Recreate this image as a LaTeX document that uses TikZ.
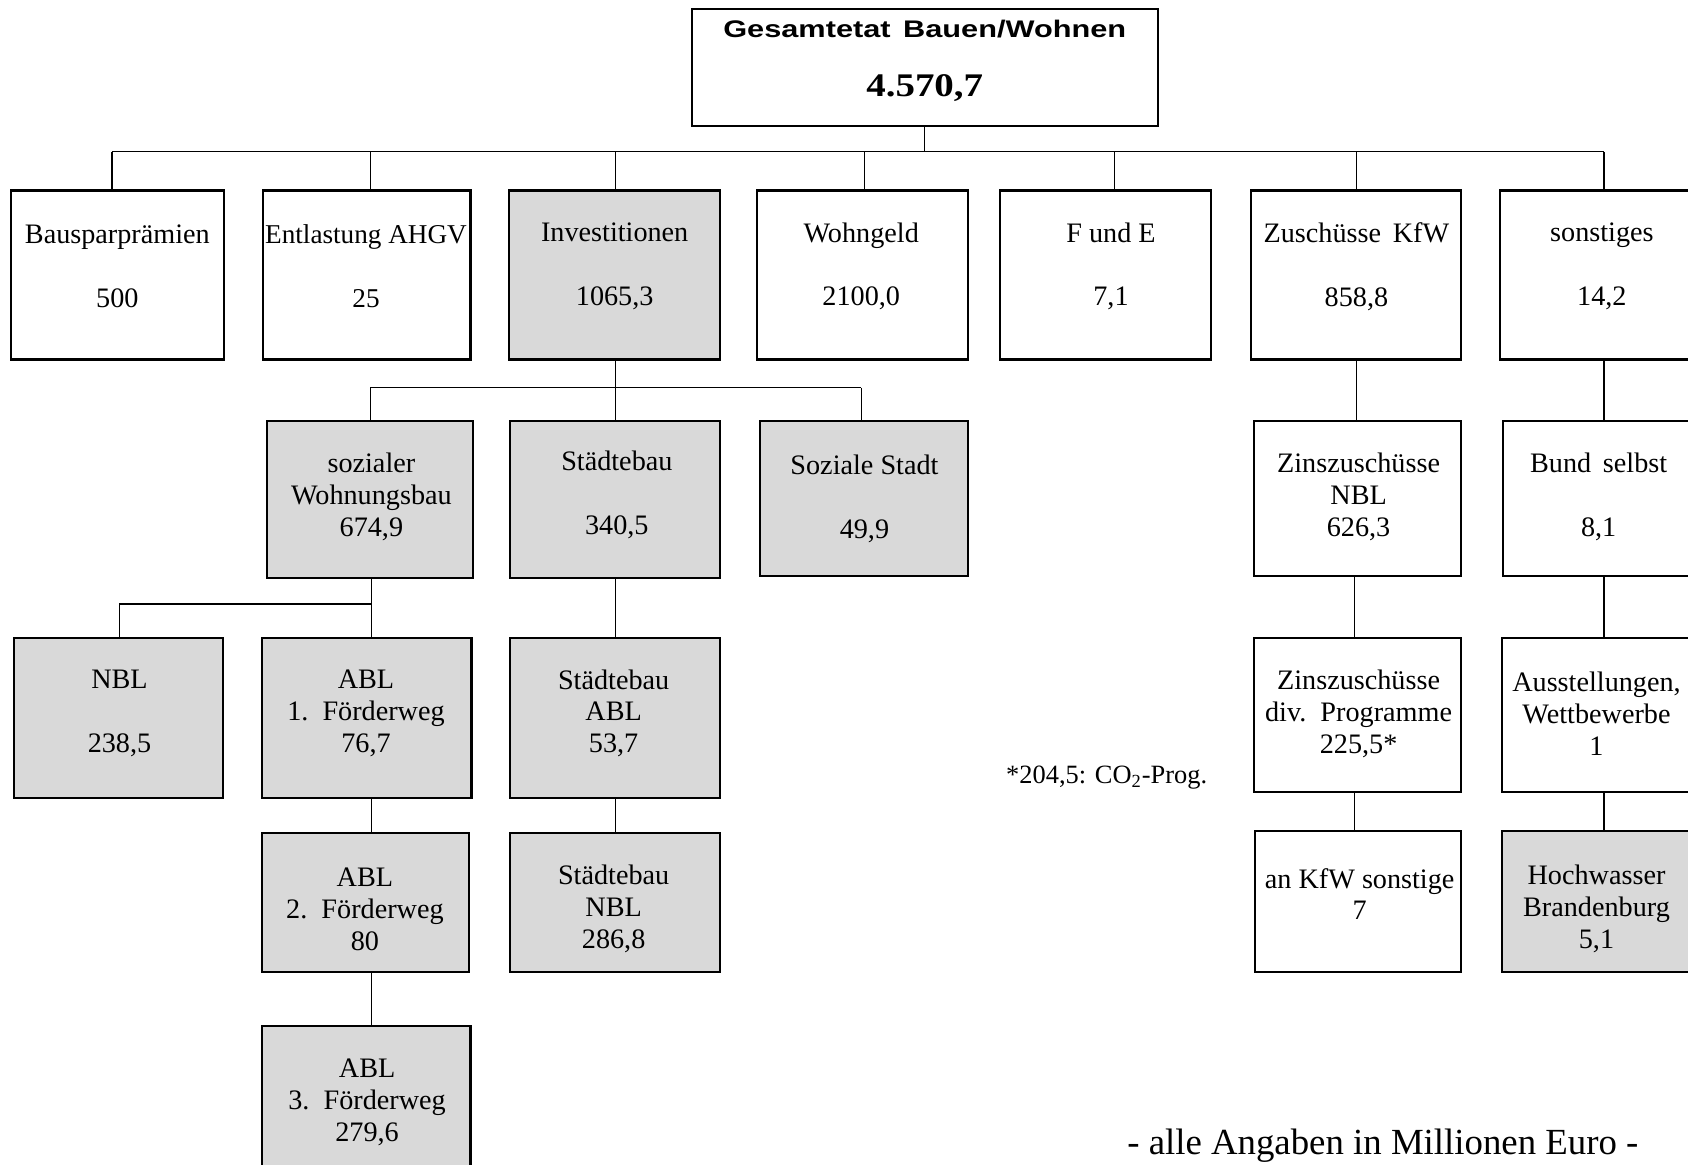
\documentclass[tikz,border=0pt]{standalone}
\usepackage{fontspec}
\setmainfont{Liberation Serif}
\newfontfamily\titlesans[FakeStretch=1.28]{Liberation Sans}
\newfontfamily\titleserif[FakeStretch=1.18]{Liberation Serif}
\usetikzlibrary{fit}
\definecolor{boxgray}{HTML}{D9D9D9}
\begin{document}
\begin{tikzpicture}[x=0.53827pt, y=-0.53827pt,
  box/.style={draw, line width=1.1pt, inner sep=0pt},
  gbox/.style={box, fill=boxgray},
  conn/.style={line width=0.6pt},
  txt/.style={font=\fontsize{14.1}{15.9}\selectfont, align=center, inner sep=0pt}]
\useasboundingbox (0,0) rectangle (1568,1082);
\clip (0,0) rectangle (1568,1082);

% ---------- boxes ----------
\node[box,  fit={(643,8)(1076,117)}] (top) {};
\node[box,  fit={(10,177)(208,334)}] (b1) {};
\node[box,  fit={(244,177)(437,334)}] (b2) {};
\node[gbox, fit={(473,177)(669,334)}] (b3) {};
\node[box,  fit={(703,177)(899,334)}] (b4) {};
\node[box,  fit={(929,177)(1125,334)}] (b5) {};
\node[box,  fit={(1162,177)(1357,334)}] (b6) {};
\node[box,  fit={(1393,177)(1600,334)}] (b7) {};

\node[gbox, fit={(248,391)(439,537)}] (c1) {};
\node[gbox, fit={(474,391)(669,537)}] (c2) {};
\node[gbox, fit={(706,391)(899,535)}] (c3) {};
\node[box,  fit={(1165,391)(1357,535)}] (c4) {};
\node[box,  fit={(1396,391)(1600,535)}] (c5) {};

\node[gbox, fit={(13,593)(207,741)}] (d1) {};
\node[gbox, fit={(243,593)(438,741)}] (d2) {};
\node[gbox, fit={(474,593)(669,741)}] (d3) {};
\node[box,  fit={(1165,593)(1357,736)}] (d4) {};
\node[box,  fit={(1395,593)(1600,736)}] (d5) {};

\node[gbox, fit={(243,774)(436,903)}] (e1) {};
\node[gbox, fit={(474,774)(669,903)}] (e2) {};
\node[box,  fit={(1166,772)(1357,903)}] (e3) {};
\node[gbox, fit={(1395,772)(1600,903)}] (e4) {};

\node[gbox, fit={(243,953)(437,1110)}] (f1) {};

% ---------- texts ----------
\node[anchor=base, inner sep=0pt, font=\titlesans\bfseries\fontsize{12}{14}\selectfont] (ttop) at (859,34.5) {Gesamtetat\, Bauen/Wohnen};
\node[anchor=base, inner sep=0pt, font=\titleserif\bfseries\fontsize{16.5}{18}\selectfont] (vtop) at (859,90) {4.570,7};

\node[txt] (tb1) at (109,247.5) {Bausparprämien\\ \strut\\500};
\node[txt, font=\fontsize{13.6}{15.9}\selectfont] (tb2) at (340,247.5) {Entlastung AHGV\\ \strut\\25};
\node[txt] (tb3) at (571,247.5) {Investitionen\\ \strut\\1065,3};
\node[txt] (tb4) at (800,247.5) {Wohngeld\\ \strut\\2100,0};
\node[txt] (tb5) at (1032,247.5) {F und E\\ \strut\\7,1};
\node[txt] (tb6) at (1260,247.5) {Zuschüsse\, KfW\\ \strut\\858,8};
\node[txt] (tb7) at (1488,247.5) {sonstiges\\ \strut\\14,2};

\node[txt] (tc1) at (345,461.5) {sozialer\\Wohnungsbau\\674,9};
\node[txt] (tc2) at (573,459.5) {Städtebau\\ \strut\\340,5};
\node[txt] (tc3) at (803,463.5) {Soziale Stadt\\ \strut\\49,9};
\node[txt] (tc4) at (1262,461.5) {Zinszuschüsse\\NBL\\626,3};
\node[txt] (tc5) at (1485,461.5) {Bund\, selbst\\ \strut\\8,1};

\node[txt] (td1) at (111,662.5) {NBL\\ \strut\\238,5};
\node[txt] (td2) at (340,662.5) {ABL\\1.\, Förderweg\\76,7};
\node[txt] (td3) at (570,662.5) {Städtebau\\ABL\\53,7};
\node[txt] (td4) at (1262,663) {Zinszuschüsse\\div.\, Programme\\225,5*};
\node[txt] (td5) at (1483,663) {Ausstellungen,\\Wettbewerbe\\1};

\node[txt] (te1) at (339,844.5) {ABL\\2.\, Förderweg\\80};
\node[txt] (te2) at (570,844.5) {Städtebau\\NBL\\286,8};
\node[txt] (te3) at (1263,830.5) {an KfW sonstige\\7};
\node[txt] (te4) at (1483,844.5) {Hochwasser\\Brandenburg\\5,1};

\node[txt] (tf1) at (341,1024) {ABL\\3.\, Förderweg\\279,6};

\node[inner sep=0pt, font=\fontsize{13.2}{15}\selectfont] (note) at (1028,722) {*204,5: CO\textsubscript{2}-Prog.};
\node[inner sep=0pt, font=\fontsize{18.4}{20}\selectfont, anchor=base] (foot) at (1284.5,1072) {- alle Angaben in Millionen Euro -};

% ---------- connectors ----------
\coordinate (j0) at (859,141);
\coordinate (j1) at (104,141);
\coordinate (j2) at (344,141);
\coordinate (j3) at (572,141);
\coordinate (j4) at (803,141);
\coordinate (j5) at (1035,141);
\coordinate (j6) at (1260,141);
\coordinate (j7) at (1490,141);
\draw[conn] (top.south -| j0) -- (j0);
\draw[conn] (j1) -- (j7);
\foreach \j/\b in {j1/b1,j2/b2,j3/b3,j4/b4,j5/b5,j6/b6,j7/b7}
  \draw[conn] (\j) -- (\j |- \b.north);

\coordinate (k1) at (344,360);
\coordinate (k2) at (572,360);
\coordinate (k3) at (800,360);
\draw[conn] (b3.south -| k2) -- (k2);
\draw[conn] (k1) -- (k3);
\foreach \k/\c in {k1/c1,k2/c2,k3/c3}
  \draw[conn] (\k) -- (\k |- \c.north);
\draw[conn] (b6.south -| j6) -- (j6 |- c4.north);
\draw[conn] (b7.south -| j7) -- (j7 |- c5.north);

\coordinate (m1) at (111,561);
\coordinate (m2) at (345,561);
\draw[conn] (c1.south -| m2) -- (m2);
\draw[conn] (m1) -- (m2);
\draw[conn] (m1) -- (m1 |- d1.north);
\draw[conn] (m2) -- (m2 |- d2.north);
\coordinate (m3) at (572,561);
\draw[conn] (c2.south -| m3) -- (m3 |- d3.north);
\coordinate (m4) at (1258,561);
\draw[conn] (c4.south -| m4) -- (m4 |- d4.north);
\coordinate (m5) at (1490,561);
\draw[conn] (c5.south -| m5) -- (m5 |- d5.north);

\draw[conn] (d2.south -| m2) -- (m2 |- e1.north);
\draw[conn] (d3.south -| m3) -- (m3 |- e2.north);
\draw[conn] (d4.south -| m4) -- (m4 |- e3.north);
\draw[conn] (d5.south -| m5) -- (m5 |- e4.north);
\draw[conn] (e1.south -| m2) -- (m2 |- f1.north);
\end{tikzpicture}
\end{document}
